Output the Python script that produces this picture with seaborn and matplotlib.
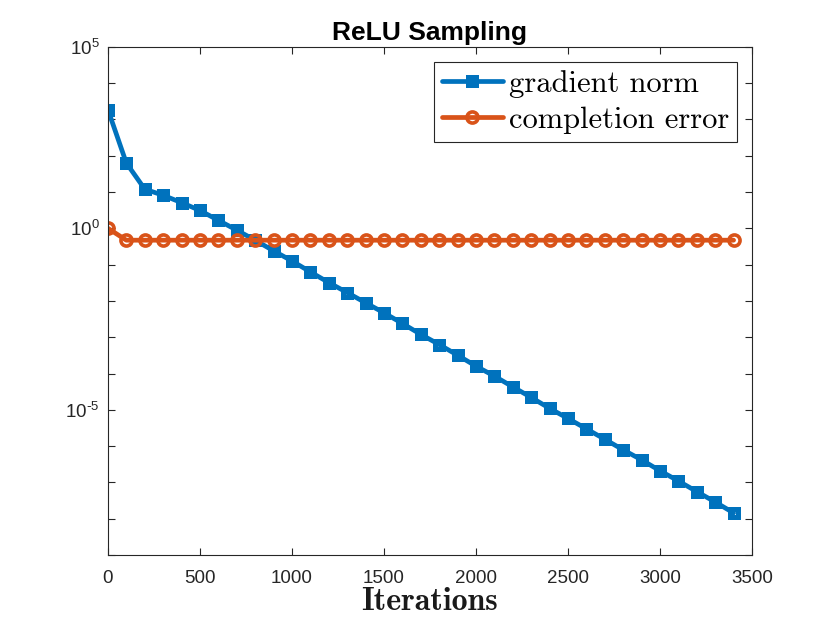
import matplotlib
matplotlib.use("Agg")
import matplotlib.pyplot as plt
import seaborn as sns
from matplotlib.ticker import NullFormatter

# data
iterations = [0, 100, 200, 300, 400, 500, 600, 700, 800, 900,
              1000, 1100, 1200, 1300, 1400, 1500, 1600, 1700, 1800, 1900,
              2000, 2100, 2200, 2300, 2400, 2500, 2600, 2700, 2800, 2900,
              3000, 3100, 3200, 3300, 3400]
gradient_norm = [1862, 63, 12, 8.1, 5.1, 3.1, 1.66, 0.89, 0.47, 0.24,
                 0.126, 0.063, 0.032, 0.017, 8.9e-3, 4.7e-3, 2.4e-3, 1.2e-3, 6.3e-4, 3.2e-4,
                 1.6e-4, 8.5e-5, 4.3e-5, 2.2e-5, 1.1e-5, 5.8e-6, 3.0e-6, 1.55e-6, 7.9e-7, 4.2e-7,
                 2.1e-7, 1.1e-7, 5.6e-8, 2.9e-8, 1.45e-8]
completion_error = [1.0] + [0.47] * 34
ytick_vals = [1e-5, 1e0, 1e5]
ytick_labels = [r'$\mathdefault{10^{\text{-}5}}$', r'$\mathdefault{10^{0}}$', r'$\mathdefault{10^{5}}$']

sns.set_style("white")
plt.rcParams['font.family'] = ['Liberation Sans', 'DejaVu Sans']
plt.rcParams['axes.edgecolor'] = '#262626'
plt.rcParams['axes.linewidth'] = 0.8
plt.rcParams['axes.unicode_minus'] = False

fig = plt.figure(figsize=(8.3, 6.23), dpi=100)
ax = fig.add_axes([0.130, 0.109, 0.776, 0.816])

sns.lineplot(x=iterations, y=gradient_norm, ax=ax, color='#0072BD', lw=3.4,
             marker='s', markersize=6.2, mfc='none', mec='#0072BD', mew=3.6,
             label='gradient norm')
sns.lineplot(x=iterations, y=completion_error, ax=ax, color='#D95319', lw=3.4,
             marker='o', markersize=8, mfc='none', mec='#D95319', mew=2.6,
             label='completion error')

ax.set_yscale('log')
ax.set_yticks(ytick_vals, ytick_labels)
ax.set_yticks([10.0 ** k for k in range(-9, 6)], minor=True)
ax.yaxis.set_minor_formatter(NullFormatter())
ax.set_ylim(1e-9, 1e5)
ax.set_xlim(0, 3500)
ax.set_xticks([0, 500, 1000, 1500, 2000, 2500, 3000, 3500])

ax.tick_params(which='both', direction='in', top=True, right=True, left=True,
               bottom=True, length=5, width=0.8, color='#262626',
               labelsize=13.5, labelcolor='#262626')
ax.tick_params(axis='x', pad=11)
ax.tick_params(axis='y', pad=6)

ax.set_title('ReLU Sampling', fontsize=19, fontweight='bold', color='black', pad=5)
ax.set_xlabel('Iterations', family='cmb10', fontsize=23, labelpad=0, color='#1a1a1a')
ax.set_ylabel('')

leg = ax.legend(loc='upper right', prop={'family': 'cmr10', 'size': 22},
                frameon=True, fancybox=False, framealpha=1, edgecolor='#262626',
                handlelength=2.0, handletextpad=0.2, borderpad=0.25,
                labelspacing=0.3, borderaxespad=0.5)
leg.get_frame().set_linewidth(0.8)
for t in leg.get_texts():
    t.set_color('black')

plt.savefig("out.png", dpi=100)
